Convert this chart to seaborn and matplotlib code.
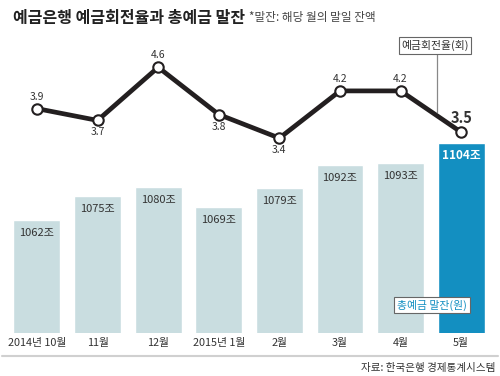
import matplotlib
matplotlib.use('Agg')
import matplotlib.pyplot as plt
import matplotlib.transforms as mtrans
from matplotlib.patches import Rectangle
import seaborn as sns
import numpy as np
import pandas as pd

sns.set_style('white')
plt.rcParams['font.family'] = ['Noto Sans CJK KR', 'DejaVu Sans']
plt.rcParams['axes.unicode_minus'] = False

# 데이터
months = ['2014년 10월', '11월', '12월', '2015년 1월', '2월', '3월', '4월', '5월']
deposits = [1062, 1075, 1080, 1069, 1079, 1092, 1093, 1104]   # 총예금 말잔(조원)
turnover = [3.9, 3.7, 4.6, 3.8, 3.4, 4.2, 4.2, 3.5]          # 예금회전율(회)
label_side = ['up', 'down', 'up', 'down', 'down', 'up', 'up', 'up']

light = '#c9dde0'
blue = '#138fc1'
df = pd.DataFrame({'month': months, 'deposit': deposits, 'rate': turnover})
df['pos'] = np.arange(len(df))

fig = plt.figure(figsize=(5, 3.76), dpi=100)
fig.patch.set_facecolor('white')
ax = fig.add_axes([0, 0, 1, 1])
ax.patch.set_alpha(0)

colors = [light] * (len(df) - 1) + [blue]
sns.barplot(data=df, x='month', y='deposit', hue='month', palette=colors,
            legend=False, width=0.775, ax=ax, saturation=1)
ax.set_xlim(-0.61, 7.64)
ax.set_ylim(976.5, 1182)
ax.axis('off')

# 막대는 1000조 선에서 잘라 보여줌 (축 생략)
clip = Rectangle((-1, 1000), 10, 500, transform=ax.transData)
for p in ax.patches:
    p.set_clip_path(clip)

# 막대 라벨
for i, v in enumerate(deposits):
    last = i == len(deposits) - 1
    ax.annotate(f'{v}조', (i, v), xytext=(0, -13), textcoords='offset pixels',
                ha='center', va='center', fontsize=8.5 if last else 8,
                color='white' if last else '#333333',
                fontweight='bold' if last else 'normal')

# 꺾은선
ax2 = ax.twinx()
ax2.set_position([0, 0, 1, 1])
sns.lineplot(data=df, x='pos', y='rate', color='#231f20', linewidth=3.4,
             marker='o', markersize=7.5, markerfacecolor='white',
             markeredgecolor='#231f20', markeredgewidth=1.5, ax=ax2)
ax2.set_xlim(-0.61, 7.64)
ax2.set_ylim(-0.63, 5.74)
ax2.axis('off')

for i, (r, side) in enumerate(zip(turnover, label_side)):
    last = i == len(turnover) - 1
    dy = 12 if side == 'up' else -12
    if last:
        dy = 14
    ax2.annotate(f'{r}', (i, r), xytext=(0, dy), textcoords='offset pixels',
                 ha='center', va='center', fontsize=10.5 if last else 7.5,
                 fontweight='bold' if last else 'normal', color='#333333')

def fy(px):
    return 1 - px / 376

def fx(px):
    return px / 500

# x축 라벨
tr = mtrans.blended_transform_factory(ax.transData, fig.transFigure)
for i, m in enumerate(months):
    ax.text(i, fy(343), m, transform=tr, ha='center', va='center',
            fontsize=7.8, color='#333333')

# 기준선
fig.add_artist(plt.Line2D([fx(2), fx(498)], [fy(356), fy(356)],
                          color='#d0d0d0', linewidth=1.5))

# 제목
fig.text(fx(13), fy(18), '예금은행 예금회전율과 총예금 말잔', fontsize=11.5,
         fontweight='bold', color='#222222', va='center', ha='left')
fig.text(fx(249), fy(18), '*말잔: 해당 월의 말일 잔액', fontsize=8.4,
         color='#444444', va='center', ha='left')

# 범례 박스
fig.add_artist(plt.Line2D([fx(437), fx(437)], [fy(53), fy(112)],
                          color='#888888', linewidth=0.9))
fig.text(fx(435), fy(45.5), '예금회전율(회)', fontsize=7.8, color='#333333',
         ha='center', va='center',
         bbox=dict(boxstyle='square,pad=0.25', fc='white', ec='#666666', lw=0.8))
fig.text(fx(432), fy(305), '총예금 말잔(원)', fontsize=7.8, color=blue,
         ha='center', va='center',
         bbox=dict(boxstyle='square,pad=0.25', fc='white', ec='#666666', lw=0.8))

# 출처
fig.text(fx(495), fy(368), '자료: 한국은행 경제통계시스템', fontsize=7.6,
         color='#333333', ha='right', va='center')

fig.savefig('out.png', dpi=100, facecolor='white')
